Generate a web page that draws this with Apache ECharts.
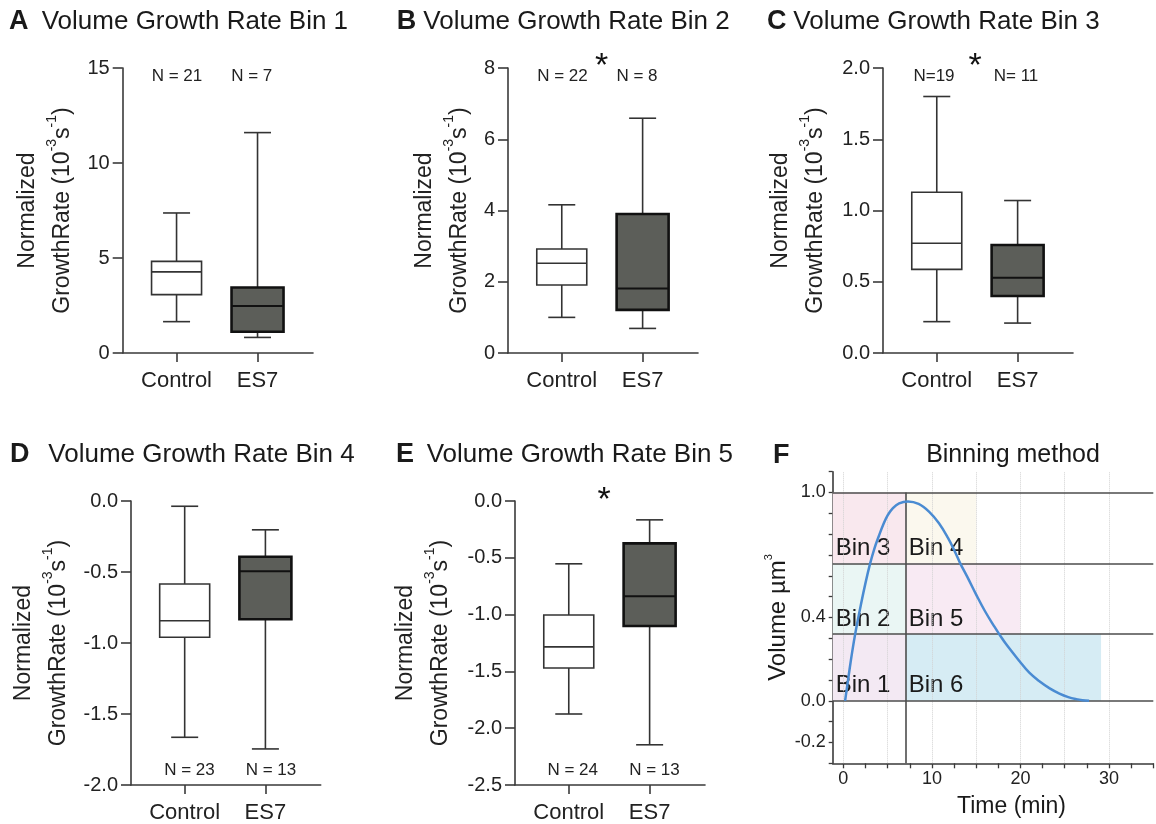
<!DOCTYPE html>
<html><head><meta charset="utf-8">
<script src="https://cdn.jsdelivr.net/npm/echarts/dist/echarts.min.js"></script>
<style>html,body{margin:0;padding:0;background:#fff}#c{width:1156px;height:824px}</style>
</head><body><div id="c"></div>
<script>
// ---------- data ----------
const categories = ['Control', 'ES7'];
// [low whisker, Q1, median, Q3, high whisker]
const bin1Control = [1.65, 3.07, 4.27, 4.82, 7.37];
const bin1ES7     = [0.82, 1.12, 2.47, 3.45, 11.6];
const bin2Control = [1.00, 1.91, 2.52, 2.92, 4.16];
const bin2ES7     = [0.69, 1.21, 1.81, 3.90, 6.59];
const bin3Control = [0.22, 0.587, 0.77, 1.128, 1.80];
const bin3ES7     = [0.21, 0.40, 0.528, 0.758, 1.07];
const bin4Control = [-1.664, -0.959, -0.843, -0.584, -0.037];
const bin4ES7     = [-1.746, -0.833, -0.494, -0.393, -0.203];
const bin5Control = [-1.875, -1.47, -1.284, -1.004, -0.553];
const bin5ES7     = [-2.146, -1.10, -0.838, -0.373, -0.166];
const nBin1 = ['N = 21', 'N = 7'];
const nBin2 = ['N = 22', 'N = 8'];
const nBin3 = ['N=19', 'N= 11'];
const nBin4 = ['N = 23', 'N = 13'];
const nBin5 = ['N = 24', 'N = 13'];

// Panel F: binning method curve
const fTime   = [0.2, 0.6, 1.0, 1.4, 2.0, 2.5, 3.0, 3.5, 4.0, 4.5, 5.0, 5.6, 6.3, 7.3, 8.5, 9.7, 10.8, 11.8, 12.6, 13.2, 14.0, 15.0, 16.0, 17.0, 17.6, 18.5, 19.9, 21.0, 22.1, 23.3, 24.4, 25.4, 26.3, 27.0, 27.75];
const fVolume = [0, 0.12, 0.235, 0.335, 0.465, 0.565, 0.655, 0.73, 0.79, 0.845, 0.89, 0.925, 0.948, 0.957, 0.945, 0.907, 0.852, 0.783, 0.716, 0.66, 0.595, 0.51, 0.43, 0.36, 0.32, 0.265, 0.19, 0.135, 0.095, 0.06, 0.035, 0.018, 0.008, 0.003, 0];
const binLevels = [0, 0.32, 0.66, 1.0];
const splitTime = 7.05;
const binNames = ['Bin 1', 'Bin 2', 'Bin 3', 'Bin 4', 'Bin 5', 'Bin 6'];
const binTimeStart = [-1.2, -1.2, -1.2, 7.05, 7.05, 7.05];
const binTimeEnd   = [7.05, 7.05, 7.05, 15, 20, 29.1];
const binLow  = [0, 0.32, 0.66, 0.66, 0.32, 0];
const binHigh = [0.32, 0.66, 1.0, 1.0, 0.66, 0.32];
const fTicksX  = [0, 2.5, 5, 7.5, 10, 12.5, 15, 17.5, 20, 22.5, 25, 27.5, 30, 32.5, 35];
const fLabelsX = [0, 10, 20, 30];
const fGridX   = [0, 5, 10, 15, 20, 25, 30];
const fLabelsY = [-0.2, 0, 0.4, 1.0];

// ---------- styles / layout ----------
const FONT = '"Liberation Sans", Arial, sans-serif';
const binColors = ['#f3e9f3', '#eaf6f4', '#f9e8ee', '#fbf8ee', '#f8eaf3', '#d6ecf4'];
const AX = '#3a3a3a';

const panels = [
  {letter:'A', title:'Volume Growth Rate Bin 1', data:[bin1Control, bin1ES7], n:nBin1, min:0, max:15, interval:5, dec:0,
   grid:{left:122.7, top:68, width:190.3, height:285}, nameGap:43, nY:76, star:null, lx:9, tx:41.7, ty:22},
  {letter:'B', title:'Volume Growth Rate Bin 2', data:[bin2Control, bin2ES7], n:nBin2, min:0, max:8, interval:2, dec:0,
   grid:{left:508, top:68, width:190, height:285}, nameGap:31, nY:76, star:[601.7, 67], lx:396.7, tx:423.3, ty:22},
  {letter:'C', title:'Volume Growth Rate Bin 3', data:[bin3Control, bin3ES7], n:nBin3, min:0, max:2, interval:0.5, dec:1,
   grid:{left:883, top:68, width:190, height:285}, nameGap:50, nY:76, star:[975, 67], lx:767, tx:793.3, ty:22},
  {letter:'D', title:'Volume Growth Rate Bin 4', data:[bin4Control, bin4ES7], n:nBin4, min:-2, max:0, interval:0.5, dec:1,
   grid:{left:131, top:501, width:189.7, height:286.3}, nameGap:55, nY:770.7, star:null, lx:10, tx:48.3, ty:454.5},
  {letter:'E', title:'Volume Growth Rate Bin 5', data:[bin5Control, bin5ES7], n:nBin5, min:-2.5, max:0, interval:0.5, dec:1,
   grid:{left:515, top:501, width:190, height:286.3}, nameGap:57, nY:770.7, star:[604, 501], lx:396, tx:426.7, ty:454.5}
];

const grids = [], xAxes = [], yAxes = [], series = [], graphics = [];
const nameRich = {
  a: {fontSize: 23, lineHeight: 35, color: '#222', fontFamily: FONT},
  s: {fontSize: 14, lineHeight: 22, verticalAlign: 'top', color: '#222', fontFamily: FONT}
};

panels.forEach((p, i) => {
  grids.push(p.grid);
  xAxes.push({
    gridIndex: i, type: 'value', min: 0.335, max: 2.685,
    axisLine: {show: true, onZero: false, lineStyle: {color: AX, width: 1.6}},
    axisTick: {show: true, length: 9, customValues: [1, 2], lineStyle: {color: AX, width: 1.6}},
    axisLabel: {customValues: [1, 2], formatter: v => categories[Math.round(v) - 1], fontSize: 22, color: '#222', fontFamily: FONT, margin: 17},
    splitLine: {show: false}
  });
  yAxes.push({
    gridIndex: i, type: 'value', min: p.min, max: p.max, interval: p.interval,
    axisLine: {show: true, onZero: false, lineStyle: {color: AX, width: 1.6}},
    axisTick: {show: true, length: 10, lineStyle: {color: AX, width: 1.6}},
    axisLabel: {formatter: v => v.toFixed(p.dec), fontSize: 20, color: '#222', fontFamily: FONT, margin: 13},
    splitLine: {show: false},
    name: '{a|Normalized}\n{a|GrowthRate (10}{s|-3}{a|s}{s|-1}{a|)}',
    nameLocation: 'middle', nameGap: p.nameGap,
    nameTextStyle: {rich: nameRich}
  });
  series.push({
    type: 'custom', xAxisIndex: i, yAxisIndex: i,
    data: p.data.map((d, k) => [k + 1].concat(d)),
    encode: {x: 0, y: [1, 2, 3, 4, 5]},
    renderItem: (params, api) => {
      const x = api.value(0);
      const lo = api.coord([x, api.value(1)]);
      const q1 = api.coord([x, api.value(2)]);
      const md = api.coord([x, api.value(3)]);
      const q3 = api.coord([x, api.value(4)]);
      const hi = api.coord([x, api.value(5)]);
      const cx = lo[0];
      const es7 = x === 2;
      const half = es7 ? 26 : 25, cap = 13.5;
      const thin = {stroke: '#333', lineWidth: 1.6};
      return {type: 'group', children: [
        {type: 'line', shape: {x1: cx, y1: hi[1], x2: cx, y2: q3[1]}, style: thin},
        {type: 'line', shape: {x1: cx, y1: q1[1], x2: cx, y2: lo[1]}, style: thin},
        {type: 'line', shape: {x1: cx - cap, y1: hi[1], x2: cx + cap, y2: hi[1]}, style: thin},
        {type: 'line', shape: {x1: cx - cap, y1: lo[1], x2: cx + cap, y2: lo[1]}, style: thin},
        {type: 'rect', shape: {x: cx - half, y: q3[1], width: 2 * half, height: q1[1] - q3[1]},
          style: {fill: es7 ? '#5c5e59' : '#ffffff', stroke: es7 ? '#111' : '#333', lineWidth: es7 ? 2.6 : 1.6}},
        {type: 'line', shape: {x1: cx - half, y1: md[1], x2: cx + half, y2: md[1]},
          style: {stroke: es7 ? '#111' : '#333', lineWidth: es7 ? 2 : 1.6}}
      ]};
    }
  });
  graphics.push({type: 'text', x: p.lx, y: p.ty, style: {text: p.letter, font: 'bold 27px ' + FONT, fill: '#1a1a1a', textVerticalAlign: 'middle'}});
  graphics.push({type: 'text', x: p.tx, y: p.ty, style: {text: p.title, font: '26px ' + FONT, fill: '#1a1a1a', textVerticalAlign: 'middle'}});
});

// N labels (positioned above / below the boxes)
const nPos = [[177, 251.7], [562.5, 637], [934, 1016], [189.5, 271], [572.7, 654.5]];
panels.forEach((p, i) => {
  p.n.forEach((t, k) => {
    graphics.push({type: 'text', x: nPos[i][k], y: p.nY, style: {text: t, font: '17px ' + FONT, fill: '#222', textAlign: 'center', textVerticalAlign: 'middle'}});
  });
  if (p.star) graphics.push({type: 'text', x: p.star[0], y: p.star[1], style: {text: '*', font: '34px ' + FONT, fill: '#111', textAlign: 'center', textVerticalAlign: 'middle'}});
});

// ---------- Panel F ----------
const fi = panels.length;
grids.push({left: 832.7, top: 471.7, width: 320.6, height: 291.6});
xAxes.push({
  gridIndex: fi, type: 'value', min: -1.2, max: 35,
  axisLine: {show: true, onZero: false, lineStyle: {color: AX, width: 1.6}},
  axisTick: {show: true, length: 5, customValues: fTicksX, lineStyle: {color: AX, width: 1.3}},
  axisLabel: {customValues: fLabelsX, fontSize: 18, color: '#222', fontFamily: FONT, margin: 7},
  splitLine: {show: false},
  name: 'Time (min)', nameLocation: 'middle', nameGap: 32,
  nameTextStyle: {fontSize: 23, color: '#1a1a1a', fontFamily: FONT, padding: [0, 0, 0, 37]}
});
yAxes.push({
  gridIndex: fi, type: 'value', min: -0.3, max: 1.1, interval: 0.1,
  axisLine: {show: true, onZero: false, lineStyle: {color: AX, width: 1.6}},
  axisTick: {show: true, length: 4, lineStyle: {color: AX, width: 1.3}},
  axisLabel: {customValues: fLabelsY, formatter: v => v.toFixed(1), fontSize: 18, color: '#222', fontFamily: FONT, margin: 7},
  splitLine: {show: false},
  name: '{a|Volume µm}{s|3}', nameLocation: 'middle', nameGap: 16,
  nameTextStyle: {rich: {a: {fontSize: 24, color: '#1a1a1a', fontFamily: FONT, lineHeight: 30}, s: {fontSize: 11, color: '#1a1a1a', fontFamily: FONT, verticalAlign: 'top', lineHeight: 18}}}
});
series.push({
  type: 'line', xAxisIndex: fi, yAxisIndex: fi, data: [], z: 1, silent: true,
  markArea: {
    silent: true,
    label: {show: true, position: 'insideBottomLeft', distance: 3, formatter: '{b}', fontSize: 24, color: '#1a1a1a', fontFamily: FONT},
    data: binNames.map((nm, k) => [
      {name: nm, coord: [binTimeStart[k], binLow[k]], itemStyle: {color: binColors[k]}},
      {coord: [binTimeEnd[k], binHigh[k]]}
    ])
  }
});
series.push({
  type: 'line', xAxisIndex: fi, yAxisIndex: fi, data: [], z: 2, silent: true,
  markLine: {
    silent: true, symbol: 'none', label: {show: false},
    lineStyle: {type: 'dotted', color: '#d2d2d2', width: 1},
    data: fGridX.map(v => ({xAxis: v}))
  }
});
series.push({
  type: 'line', xAxisIndex: fi, yAxisIndex: fi, z: 5, smooth: 0.4, showSymbol: false, silent: true,
  data: fTime.map((t, k) => [t, fVolume[k]]),
  lineStyle: {color: '#4a8bd2', width: 2.5},
  markLine: {
    silent: true, symbol: 'none', label: {show: false},
    lineStyle: {type: 'solid', color: '#4d4d4d', width: 1.6},
    data: binLevels.map(v => ({yAxis: v})).concat([[{coord: [splitTime, -0.3]}, {coord: [splitTime, 1.0]}]])
  }
});
graphics.push({type: 'text', x: 773, y: 455.5, style: {text: 'F', font: 'bold 27px ' + FONT, fill: '#1a1a1a', textVerticalAlign: 'middle'}});
graphics.push({type: 'text', x: 1013, y: 455.5, style: {text: 'Binning method', font: '25px ' + FONT, fill: '#1a1a1a', textAlign: 'center', textVerticalAlign: 'middle'}});

const chart = echarts.init(document.getElementById('c'), null, {renderer: 'canvas'});
chart.setOption({
  backgroundColor: '#ffffff',
  animation: false,
  textStyle: {fontFamily: FONT},
  grid: grids, xAxis: xAxes, yAxis: yAxes, series: series, graphic: graphics
});
</script></body></html>
